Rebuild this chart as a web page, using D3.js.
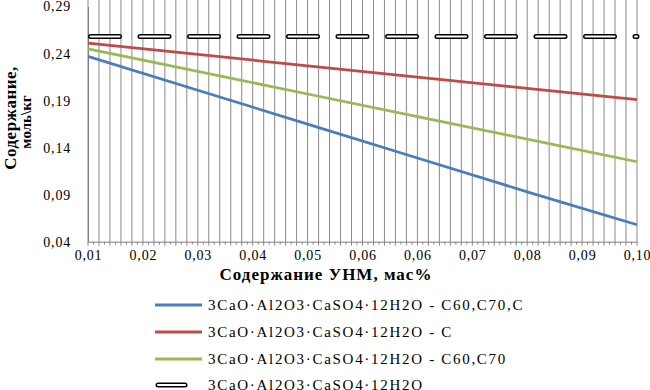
<!DOCTYPE html>
<html>
<head>
<meta charset="utf-8">
<script src="https://cdn.jsdelivr.net/npm/d3@7"></script>
<style>
  body { margin: 0; background: #fff; }
  svg text { font-family: "Liberation Serif", "DejaVu Serif", "Times New Roman", serif !important; }
</style>
</head>
<body>
<div id="chart"></div>
<script>
var xPoints = [0.01, 0.028, 0.046, 0.064, 0.082, 0.10]
var seriesBlue = [0.237, 0.201, 0.165, 0.129, 0.093, 0.058]
var seriesRed = [0.251, 0.239, 0.227, 0.215, 0.203, 0.191]
var seriesGreen = [0.245, 0.221, 0.197, 0.173, 0.149, 0.125]
var seriesBlack = [0.258, 0.258, 0.258, 0.258, 0.258, 0.258]

var seriesNames = [
  "3CaO·Al2O3·CaSO4·12H2O - C60,C70,C",
  "3CaO·Al2O3·CaSO4·12H2O - C",
  "3CaO·Al2O3·CaSO4·12H2O - C60,C70",
  "3CaO·Al2O3·CaSO4·12H2O"
]

var xTickValues = [0.01, 0.019, 0.028, 0.037, 0.046, 0.055, 0.064, 0.073, 0.082, 0.091, 0.10]
var xTickLabels = ["0,01", "0,02", "0,03", "0,04", "0,05", "0,06", "0,06", "0,07", "0,08", "0,09", "0,10"]
var yTickValues = [0.04, 0.09, 0.14, 0.19, 0.24, 0.29]
var yTickLabels = ["0,04", "0,09", "0,14", "0,19", "0,24", "0,29"]

var serif = "'Liberation Serif', 'DejaVu Serif', 'Times New Roman', serif"

var width = 650
var height = 390
var margin = {top: 6.5, right: 13, bottom: 148.3, left: 88}
var w = width - margin.left - margin.right
var h = height - margin.top - margin.bottom

var svg = d3.select("#chart")
    .append("svg")
    .attr("width", width)
    .attr("height", height)
    .attr("font-family", serif)

var g = svg.append("g")
    .attr("transform", "translate(" + margin.left + "," + margin.top + ")")

var xScale = d3.scaleLinear()
    .domain([0.01, 0.10])
    .range([0, w])

var yScale = d3.scaleLinear()
    .domain([0.04, 0.29])
    .range([h, 0])

// vertical grid, 5 lines per labelled step
var gridVals = d3.range(0, 51).map(function(i) { return 0.01 + i * 0.0018 })
g.append("g").attr("class", "grid")
  .selectAll("line")
  .data(gridVals)
  .enter().append("line")
    .attr("x1", function(d) { return xScale(d) })
    .attr("x2", function(d) { return xScale(d) })
    .attr("y1", -margin.top)
    .attr("y2", h + 4)
    .attr("stroke", "#8a8a8a")
    .attr("stroke-width", 1)

// minor ticks half way
var minorVals = d3.range(0, 50).map(function(i) { return 0.01 + (i + 0.5) * 0.0018 })
g.append("g")
  .selectAll("line")
  .data(minorVals)
  .enter().append("line")
    .attr("x1", function(d) { return xScale(d) })
    .attr("x2", function(d) { return xScale(d) })
    .attr("y1", h)
    .attr("y2", h + 3)
    .attr("stroke", "#8a8a8a")

// x axis
var xAxis = g.append("g")
    .attr("transform", "translate(0," + h + ")")
    .call(d3.axisBottom(xScale)
      .tickValues(xTickValues)
      .tickFormat(function(d, i) { return xTickLabels[i] })
      .tickSize(0)
      .tickPadding(8))
xAxis.attr("font-family", serif)
xAxis.select(".domain").attr("stroke", "#7f7f7f")
xAxis.selectAll("text")
    .attr("font-size", "14px")
    .attr("letter-spacing", "0.8px")
    .attr("fill", "#000")

// y axis
var yAxis = g.append("g")
    .call(d3.axisLeft(yScale)
      .tickValues(yTickValues)
      .tickFormat(function(d, i) { return yTickLabels[i] })
      .tickSize(0)
      .tickPadding(17))
yAxis.attr("font-family", serif)
yAxis.select(".domain").attr("stroke", "#7f7f7f")
yAxis.selectAll("text")
    .attr("font-size", "14px")
    .attr("letter-spacing", "0.8px")
    .attr("fill", "#000")

var line = d3.line()
    .x(function(d, i) { return xScale(xPoints[i]) })
    .y(function(d) { return yScale(d) })

var colors = ["#4a7ebb", "#be4b48", "#98b954"]
var lines = [seriesBlue, seriesRed, seriesGreen]

// black outlined dashed series
g.append("path")
    .attr("d", line(seriesBlack))
    .attr("fill", "none")
    .attr("stroke", "#000")
    .attr("stroke-width", 5)
    .attr("stroke-linecap", "round")
    .attr("stroke-dasharray", "29,20.5")
    .attr("stroke-dashoffset", -2.5)
g.append("path")
    .attr("d", line(seriesBlack))
    .attr("fill", "none")
    .attr("stroke", "#fff")
    .attr("stroke-width", 2)
    .attr("stroke-linecap", "round")
    .attr("stroke-dasharray", "29,20.5")
    .attr("stroke-dashoffset", -2.5)

lines.forEach(function(s, i) {
  g.append("path")
    .attr("d", line(s))
    .attr("fill", "none")
    .attr("stroke", colors[i])
    .attr("stroke-width", 2.75)
})

// axis titles
svg.append("text")
    .attr("x", 326)
    .attr("y", 280)
    .attr("text-anchor", "middle")
    .attr("font-size", "17px")
    .attr("font-weight", "bold")
    .attr("letter-spacing", "1px")
    .text("Содержание УНМ, мас%")

svg.append("text")
    .attr("transform", "translate(16,118) rotate(-90)")
    .attr("text-anchor", "middle")
    .attr("font-size", "17px")
    .attr("font-weight", "bold")
    .attr("letter-spacing", "0.5px")
    .text("Содержание,")

svg.append("text")
    .attr("transform", "translate(31,122) rotate(-90)")
    .attr("text-anchor", "middle")
    .attr("font-size", "15px")
    .attr("font-weight", "bold")
    .text("моль\\кг")

// legend
var legendY = [305, 332, 359, 385]
var legend = svg.append("g")
seriesNames.forEach(function(name, i) {
  var y = legendY[i]
  if (i < 3) {
    legend.append("line")
      .attr("x1", 155).attr("x2", 202)
      .attr("y1", y).attr("y2", y)
      .attr("stroke", colors[i])
      .attr("stroke-width", 3)
  } else {
    legend.append("line")
      .attr("x1", 158).attr("x2", 185)
      .attr("y1", y).attr("y2", y)
      .attr("stroke", "#000")
      .attr("stroke-width", 5)
      .attr("stroke-linecap", "round")
    legend.append("line")
      .attr("x1", 158).attr("x2", 185)
      .attr("y1", y).attr("y2", y)
      .attr("stroke", "#fff")
      .attr("stroke-width", 2)
      .attr("stroke-linecap", "round")
  }
  legend.append("text")
    .attr("x", 208)
    .attr("y", y + 5)
    .attr("font-size", "15px")
    .attr("letter-spacing", "1.7px")
    .text(name)
})
</script>
</body>
</html>
